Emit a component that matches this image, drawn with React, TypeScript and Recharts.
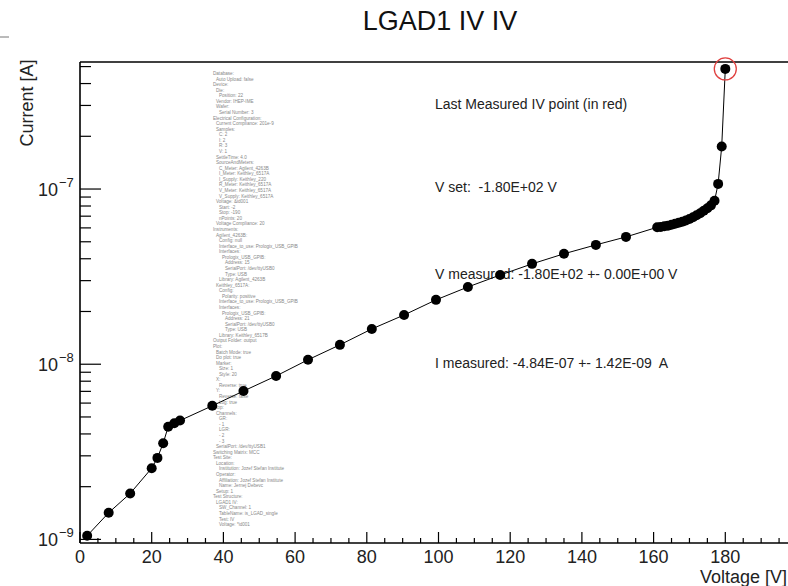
import React from 'react';
import { LineChart, Line, XAxis, YAxis, ReferenceLine, ReferenceDot } from 'recharts';

// measured IV points (voltage magnitude, current magnitude)
const voltages = [
  2, 8, 14, 20, 21.6, 23.2, 24.6, 26.3, 27.9, 36.9, 45.6, 54.7, 63.6, 72.5, 81.4, 90.4,
  99.3, 108.2, 117.2, 126.1, 135, 143.9, 152.3,
  161, 162, 163, 164, 165, 166, 167, 168, 169, 170, 171, 172, 173, 174, 175, 176, 177,
  178, 179, 180,
];
const currents = [
  1.05e-9, 1.42e-9, 1.83e-9, 2.55e-9, 2.92e-9, 3.54e-9, 4.4e-9, 4.6e-9, 4.77e-9, 5.79e-9,
  7.03e-9, 8.57e-9, 1.06e-8, 1.29e-8, 1.59e-8, 1.91e-8, 2.33e-8, 2.76e-8, 3.23e-8, 3.74e-8,
  4.27e-8, 4.8e-8, 5.33e-8,
  6.05e-8, 6.08e-8, 6.13e-8, 6.18e-8, 6.25e-8, 6.33e-8, 6.42e-8, 6.5e-8, 6.61e-8, 6.74e-8,
  6.9e-8, 7.08e-8, 7.27e-8, 7.52e-8, 7.76e-8, 8.07e-8, 8.57e-8,
  1.07e-7, 1.75e-7, 4.85e-7,
];

const xMajorTicks = [0, 20, 40, 60, 80, 100, 120, 140, 160, 180];
const xMinorTicks = [5, 10, 15, 25, 30, 35, 45, 50, 55, 65, 70, 75, 85, 90, 95, 105, 110, 115,
  125, 130, 135, 145, 150, 155, 165, 170, 175, 185, 190, 195];
const yMajorTicks = [1e-9, 1e-8, 1e-7];
const yMajorExp = ['\u22129', '\u22128', '\u22127'];
const yMinorTicks = [2e-9, 3e-9, 4e-9, 5e-9, 6e-9, 7e-9, 8e-9, 9e-9,
  2e-8, 3e-8, 4e-8, 5e-8, 6e-8, 7e-8, 8e-8, 9e-8, 2e-7, 3e-7, 4e-7, 5e-7];

const lastPoint = { v: 180, i: 4.85e-7 };
const infoLines = [
  'Last Measured IV point (in red)',
  'V set:  -1.80E+02 V',
  'V measured: -1.80E+02 +- 0.00E+00 V',
  'I measured: -4.84E-07 +- 1.42E-09  A',
];

const configLines = [
  'Database:',
  '  Auto Upload: false',
  'Device:',
  '  Die:',
  '    Position: 22',
  '  Vendor: IHEP-IME',
  '  Wafer:',
  '    Serial Number: 3',
  'Electrical Configuration:',
  '  Current Compliance: 201e-9',
  '  Samples:',
  '    C: 2',
  '    I: 2',
  '    R: 3',
  '    V: 1',
  '  SettleTime: 4.0',
  '  SourceAndMeters:',
  '    C_Meter: Agilent_4263B',
  '    I_Meter: Keithley_6517A',
  '    I_Supply: Keithley_220',
  '    R_Meter: Keithley_6517A',
  '    V_Meter: Keithley_6517A',
  '    V_Supply: Keithley_6517A',
  '  Voltage: &id001',
  '    Start: -2',
  '    Stop: -190',
  '    nPoints: 20',
  '  Voltage Compliance: 20',
  'Instruments:',
  '  Agilent_4263B:',
  '    Config: null',
  '    Interface_to_use: Prologix_USB_GPIB',
  '    Interfaces:',
  '      Prologix_USB_GPIB:',
  '        Address: 15',
  '        SerialPort: /dev/ttyUSB0',
  '        Type: USB',
  '    Library: Agilent_4263B',
  '  Keithley_6517A:',
  '    Config:',
  '      Polarity: positive',
  '    Interface_to_use: Prologix_USB_GPIB',
  '    Interfaces:',
  '      Prologix_USB_GPIB:',
  '        Address: 21',
  '        SerialPort: /dev/ttyUSB0',
  '        Type: USB',
  '    Library: Keithley_6517B',
  'Output Folder: output',
  'Plot:',
  '  Batch Mode: true',
  '  Do plot: true',
  '  Marker:',
  '    Size: 1',
  '    Style: 20',
  '  X:',
  '    Reverse: true',
  '  Y:',
  '    Reverse: false',
  '    Log: true',
  'Stop:',
  '  Channels:',
  '    GR:',
  '    - 1',
  '    LGR:',
  '    - 2',
  '    - 3',
  '  SerialPort: /dev/ttyUSB1',
  'Switching Matrix: MCC',
  'Test Site:',
  '  Location:',
  '    Institution: Jozef Stefan Institute',
  '  Operator:',
  '    Affiliation: Jozef Stefan Institute',
  '    Name: Jernej Debevc',
  '  Setup: 1',
  'Test Structure:',
  '  LGAD1 IV:',
  '    SW_Channel: 1',
  '    TableName: is_LGAD_single',
  '    Test: IV',
  '    Voltage: *id001',
];

const data = voltages.map((v, k) => ({ v, i: currents[k] }));
const FONT = '"Liberation Sans", Arial, sans-serif';

const XTick = (props: any) => {
  const { x, y, payload } = props;
  const major = xMajorTicks.includes(payload.value);
  return (
    <g>
      <line x1={x} x2={x} y1={y} y2={y - (major ? 11 : 5)} stroke="#000" strokeWidth={1.2} />
      {major && (
        <text x={x} y={y + 20} textAnchor="middle" fontSize={18} fontFamily={FONT} fill="#222">
          {payload.value}
        </text>
      )}
    </g>
  );
};

const YTick = (props: any) => {
  const { x, y, payload } = props;
  const idx = yMajorTicks.indexOf(payload.value);
  const major = idx >= 0;
  return (
    <g>
      <line x1={x} x2={x + (major ? 21 : 11)} y1={y} y2={y} stroke="#000" strokeWidth={1.2} />
      {major && (
        <text x={x - 42} y={y + 7} fontSize={18} fontFamily={FONT} fill="#222">
          10
          <tspan dx={1} dy={-9} fontSize={13}>{yMajorExp[idx]}</tspan>
        </text>
      )}
    </g>
  );
};

export default function App() {
  return (
    <div style={{ position: 'fixed', left: 0, top: 0, width: 788, height: 586, overflow: 'hidden', background: '#fff' }}>
      <svg width={788} height={586} style={{ position: 'absolute', left: 0, top: 0 }}>
        <line x1={0} x2={9} y1={37} y2={37} stroke="#777" strokeWidth={1} />
        <text x={440} y={30} textAnchor="middle" fontSize={27} fontFamily={FONT} fill="#111">
          LGAD1 IV IV
        </text>
        <text transform="translate(33,103) rotate(-90)" textAnchor="middle" fontSize={18} fontFamily={FONT} fill="#222">
          Current [A]
        </text>
        <text x={787} y={583} textAnchor="end" fontSize={18} fontFamily={FONT} fill="#222">
          Voltage [V]
        </text>
        {configLines.map((line, k) => {
          const indent = line.length - line.trimStart().length;
          return (
            <text key={k} x={213 + indent * 1.5} y={75 + k * 5.57} fontSize={4.6} fontFamily={FONT} fill="#888">
              {line.trim()}
            </text>
          );
        })}
        {infoLines.map((line, k) => (
          <text key={k} x={435} y={[109, 192, 279, 368][k]} fontSize={14} fontFamily={FONT} fill="#222" style={{ whiteSpace: 'pre' }}>
            {line}
          </text>
        ))}
      </svg>
      <div style={{ position: 'absolute', left: 0, top: 0 }}>
        <LineChart width={800} height={586} data={data} margin={{ top: 62, right: 3, bottom: 0, left: 0 }}>
          <XAxis
            type="number"
            dataKey="v"
            domain={[0, 200]}
            ticks={[...xMajorTicks, ...xMinorTicks].sort((a, b) => a - b)}
            interval={0}
            tickSize={0}
            tickMargin={0}
            tick={XTick}
            height={43}
            axisLine={{ stroke: '#000', strokeWidth: 1.6 }}
          />
          <YAxis
            type="number"
            scale="log"
            dataKey="i"
            domain={[9.54e-10, 5.31e-7]}
            ticks={[...yMajorTicks, ...yMinorTicks].sort((a, b) => a - b)}
            interval={0}
            tickSize={0}
            tickMargin={0}
            tick={YTick}
            width={80}
            axisLine={{ stroke: '#000', strokeWidth: 1.6 }}
          />
          <ReferenceLine y={5.31e-7} stroke="#000" strokeWidth={1.6} />
          <Line
            type="linear"
            dataKey="i"
            stroke="#000"
            strokeWidth={1}
            dot={{ r: 5, fill: '#000', stroke: 'none' }}
            isAnimationActive={false}
          />
          <ReferenceDot x={lastPoint.v} y={lastPoint.i} r={11} fill="none" stroke="#e0403f" strokeWidth={1.3} />
        </LineChart>
      </div>
    </div>
  );
}
